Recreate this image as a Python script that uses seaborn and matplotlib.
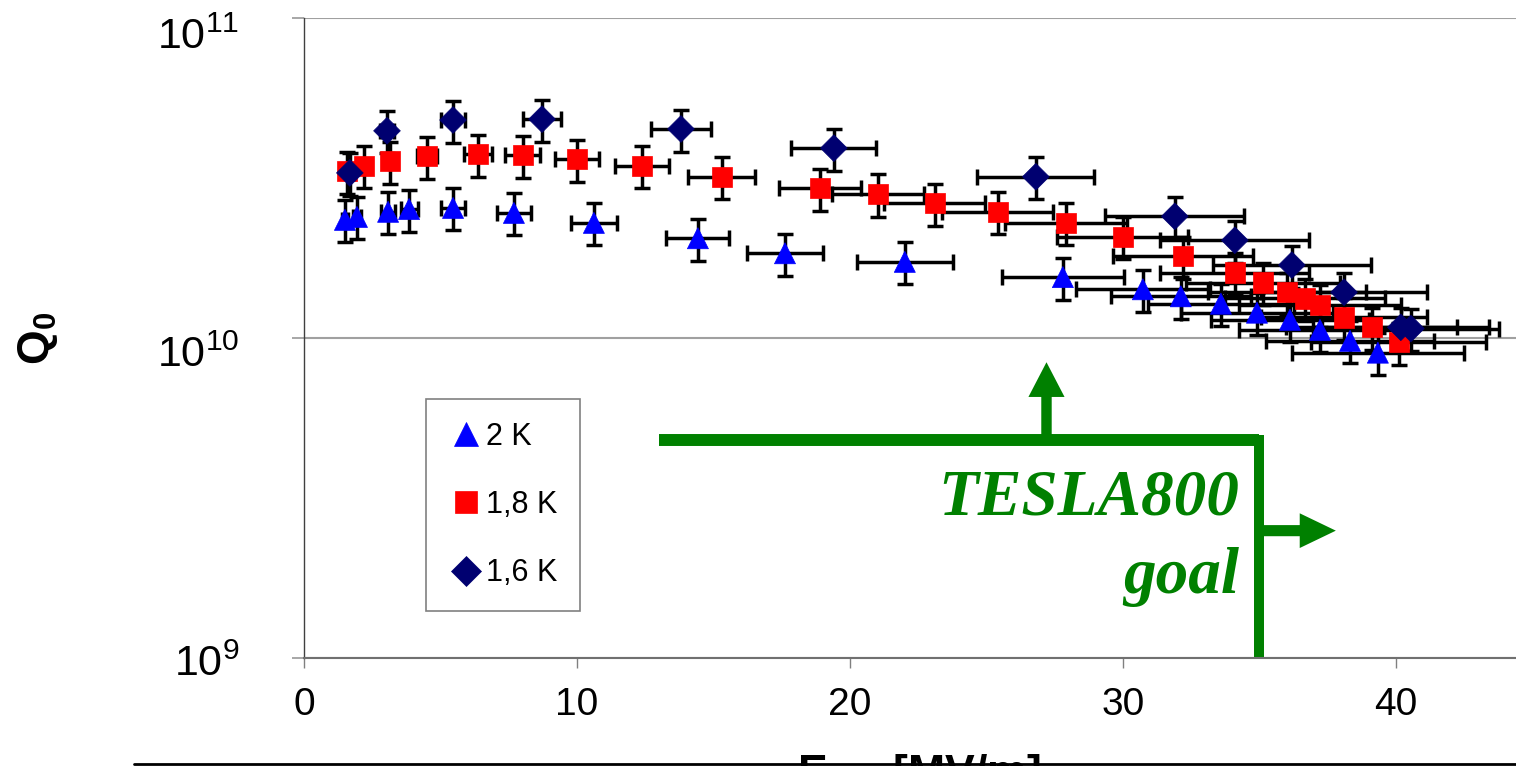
import matplotlib
matplotlib.use("Agg")
import matplotlib.pyplot as plt
from matplotlib.transforms import ScaledTranslation
import seaborn as sns
import pandas as pd
import numpy as np

# Datos (E_acc en MV/m, Q0)
series_names = ["2 K", "1,8 K", "1,6 K"]

eacc_2k = [1.50, 1.94, 3.08, 3.85, 5.46, 7.69, 10.62, 14.43, 17.62, 22.01,
           27.80, 30.73, 32.12, 33.59, 34.91, 36.12, 37.22, 38.32, 39.34]
q0_2k = [2.34e10, 2.39e10, 2.48e10, 2.53e10, 2.55e10, 2.46e10, 2.29e10, 2.05e10, 1.84e10, 1.73e10,
         1.55e10, 1.42e10, 1.35e10, 1.28e10, 1.20e10, 1.14e10, 1.06e10, 9.8e9, 9.0e9]

eacc_18k = [1.58, 2.20, 3.15, 4.51, 6.37, 8.02, 10.00, 12.38, 15.31, 18.90, 21.03, 23.11,
            25.42, 27.91, 30.00, 32.20, 34.10, 35.13, 36.01, 36.67, 37.22, 38.10, 39.12, 40.11]
q0_18k = [3.32e10, 3.45e10, 3.57e10, 3.70e10, 3.76e10, 3.73e10, 3.62e10, 3.45e10, 3.19e10, 2.94e10, 2.82e10, 2.64e10,
          2.48e10, 2.29e10, 2.07e10, 1.80e10, 1.60e10, 1.49e10, 1.39e10, 1.33e10, 1.27e10, 1.16e10, 1.08e10, 9.7e9]

eacc_16k = [1.68, 3.04, 5.46, 8.72, 13.81, 19.41, 26.81, 31.90, 34.10, 36.19, 38.10, 40.18, 40.55]
q0_16k = [3.28e10, 4.44e10, 4.80e10, 4.83e10, 4.50e10, 3.92e10, 3.19e10, 2.40e10, 2.02e10, 1.69e10,
          1.39e10, 1.08e10, 1.07e10]

# errores relativos
eacc_rel_err = 0.08
q0_rel_err = 0.15

# objetivo TESLA800
goal_eacc = 35.0
goal_q0 = 4.8e9
goal_line_start = 13.0
goal_up_arrow = (27.2, 8.4e9)
goal_right_arrow = (37.8, 2.5e9)

x_ticks = [0, 10, 20, 30, 40]
x_tick_labels = ["0", "10", "20", "30", "40"]
y_ticks = [1e9, 1e10, 1e11]
y_tick_labels = [r"$10^{9}$", r"$10^{10}$", r"$10^{11}$"]

colors = {"2 K": "#0000ff", "1,8 K": "#ff0000", "1,6 K": "#000070"}
markers = {"2 K": "^", "1,8 K": "s", "1,6 K": "D"}
sizes = {"2 K": 230, "1,8 K": 215, "1,6 K": 185}
green = "#008000"

# DataFrame con todas las series
df = pd.concat([
    pd.DataFrame({"Eacc": eacc_2k, "Q0": q0_2k, "serie": "2 K"}),
    pd.DataFrame({"Eacc": eacc_18k, "Q0": q0_18k, "serie": "1,8 K"}),
    pd.DataFrame({"Eacc": eacc_16k, "Q0": q0_16k, "serie": "1,6 K"}),
], ignore_index=True)

sns.set_theme(style="white")
plt.rcParams["font.family"] = ["Liberation Sans", "DejaVu Sans"]
plt.rcParams["text.color"] = "black"
plt.rcParams["axes.labelcolor"] = "black"
plt.rcParams["xtick.labelcolor"] = "black"
plt.rcParams["ytick.labelcolor"] = "black"
plt.rcParams["mathtext.fontset"] = "custom"
plt.rcParams["mathtext.rm"] = "Liberation Sans"
plt.rcParams["mathtext.bf"] = "Liberation Sans:bold"
plt.rcParams["mathtext.it"] = "Liberation Sans:italic"

fig = plt.figure(figsize=(15.16, 7.66), dpi=100)
ax = fig.add_axes([304 / 1516, 108 / 766, 1212 / 1516, 640 / 766])

# barras de error primero, debajo de los marcadores
for name in series_names:
    sub = df[df["serie"] == name]
    ax.errorbar(sub["Eacc"], sub["Q0"], xerr=sub["Eacc"] * eacc_rel_err, yerr=sub["Q0"] * q0_rel_err,
                fmt="none", ecolor="black", elinewidth=2.5, capsize=5.5, capthick=2.5, zorder=2)

sns.scatterplot(data=df, x="Eacc", y="Q0", hue="serie", style="serie", size="serie",
                palette=colors, markers=markers, sizes=sizes, hue_order=series_names,
                style_order=series_names, size_order=series_names,
                edgecolor="face", linewidth=0.5, ax=ax, zorder=3)

ax.set_yscale("log")
ax.set_xlim(0, 44.4)
ax.set_ylim(1e9, 1e11)

# linea objetivo y flechas
ax.plot([goal_line_start, goal_eacc], [goal_q0, goal_q0], color=green, lw=8.6, solid_capstyle="butt", zorder=1)
ax.plot([goal_eacc, goal_eacc], [1e9, goal_q0], color=green, lw=7.2, solid_capstyle="projecting", zorder=1)
ax.annotate("", xy=goal_up_arrow, xytext=(goal_up_arrow[0], goal_q0),
            arrowprops=dict(arrowstyle="simple,head_length=25,head_width=26,tail_width=7.5",
                            mutation_scale=1, color=green, lw=0, shrinkA=0, shrinkB=0))
ax.annotate("", xy=goal_right_arrow, xytext=(goal_eacc, goal_right_arrow[1]),
            arrowprops=dict(arrowstyle="simple,head_length=26,head_width=25,tail_width=8",
                            mutation_scale=1, color=green, lw=0, shrinkA=0, shrinkB=0))
ax.text(34.25, 2.8e9, "TESLA800", color=green, fontsize=47, fontweight="bold", fontstyle="italic",
        family=["Liberation Serif"], ha="right", va="baseline")
ax.text(34.25, 1.6e9, "goal", color=green, fontsize=47, fontweight="bold", fontstyle="italic",
        family=["Liberation Serif"], ha="right", va="baseline")

# ejes
ax.set_xticks(x_ticks)
ax.set_xticklabels(x_tick_labels, fontsize=28, color="black")
ax.set_yticks(y_ticks)
ax.set_yticklabels(y_tick_labels, fontsize=31, color="black")
ax.minorticks_off()
ax.tick_params(axis="x", bottom=True, direction="out", length=7, width=1, color="#808080", pad=14)
ax.tick_params(axis="y", left=True, direction="out", length=8.6, width=1.3, color="#a0a0a0", pad=38)
for lab, dy in zip(ax.get_yticklabels(), [-2, -13, -15]):
    lab.set_transform(lab.get_transform() + ScaledTranslation(0, dy / 100, fig.dpi_scale_trans))

ax.yaxis.grid(True, color="#a0a0a0", lw=1.5)
ax.xaxis.grid(False)
sns.despine(ax=ax, top=True, right=True)
ax.spines["left"].set_color("#404040")
ax.spines["left"].set_linewidth(1)
ax.spines["bottom"].set_color("#707070")
ax.spines["bottom"].set_linewidth(1.5)

ax.set_xlabel(r"$\mathbf{E_{acc}}$ [MV/m]", fontsize=32, fontweight="bold", color="black")
ax.xaxis.set_label_coords(0.507, -0.147)
ax.set_ylabel(r"$\mathbf{Q_0}$", fontsize=32, color="black")
ax.yaxis.set_label_coords(-0.2013, 0.5)

sns.move_legend(ax, "upper left", bbox_to_anchor=(426 / 1516, 1 - 399 / 766), bbox_transform=fig.transFigure,
                title=None, fontsize=22, frameon=True, fancybox=False, edgecolor="#808080",
                framealpha=1, borderpad=0.75, handlelength=1.1, handletextpad=0.1, labelspacing=1.25,
                borderaxespad=0, markerscale=1.1)
leg = ax.get_legend()
leg.get_frame().set_linewidth(1.2)
for t in leg.get_texts():
    t.set_color("black")

# linea negra inferior
fig.add_artist(plt.Line2D([134 / 1516, 1], [2 / 766, 2 / 766], color="black", lw=2))

fig.savefig("out.png", dpi=100)
